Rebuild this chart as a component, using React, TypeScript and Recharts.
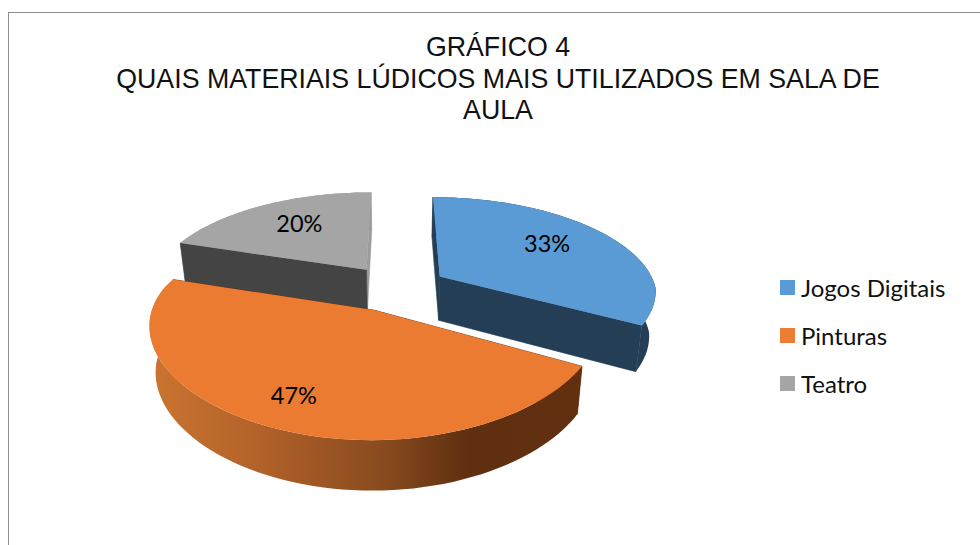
import React from 'react';
import { PieChart, Pie, Cell, Legend } from 'recharts';

const categories = ['Jogos Digitais', 'Pinturas', 'Teatro'];
const values = [33, 47, 20];
const topColors = ['#5b9bd5', '#ea7b30', '#a5a5a5'];
const legendColors = ['#5b9bd5', '#ed7d31', '#a5a5a5'];
const cutColors = ['#233e55', '#62300f', '#444444'];
const endCutColors = ['#233e55', '#62300f', '#9c9c9c'];
const labelFractions = [0.64, 0.8, 0.62];
const titleLines = ['GRÁFICO 4', 'QUAIS MATERIAIS LÚDICOS MAIS UTILIZADOS EM SALA DE', 'AULA'];

// Teatro comes first so Pinturas paints over its cut face; the angles start where Teatro starts
const drawOrder = [2, 0, 1];
const data = drawOrder.map((i) => ({ name: categories[i], value: values[i] }));

const RAD = Math.PI / 180;
const EXPLODE = 0.24; // pulled out of the centre, as a part of the radius
const SQUASH = 97.3 / 216.5; // vertical radius against horizontal radius
const DEPTH = 44.5;

// polar position on the tilted disc -> screen, near side looks larger
const project = (cx: number, cy: number, r: number, u: number, v: number, low = false) => {
  const x = cx + (r * u) / (1 - (v < 0 ? 0.19 : 0.13) * v);
  const y = cy + (r * SQUASH * v) / (1 - 0.18 * v);
  if (!low) return [x, y];
  return [cx + (x - cx) * 0.975, y + DEPTH * (1 + 0.11 * v)];
};

const toPath = (pts: number[][]) =>
  'M' + pts.map((p) => p[0].toFixed(1) + ',' + p[1].toFixed(1)).join('L') + 'Z';

const Slice3D = (props: any) => {
  const { cx, cy, outerRadius, startAngle, endAngle, midAngle, name } = props;
  const idx = categories.indexOf(name);
  const offU = EXPLODE * Math.cos(midAngle * RAD);
  const offV = -EXPLODE * Math.sin(midAngle * RAD);
  const rim = (a: number, low = false) =>
    project(cx, cy, outerRadius, offU + Math.cos(a * RAD), offV - Math.sin(a * RAD), low);
  const apex = project(cx, cy, outerRadius, offU, offV);
  const apexLow = project(cx, cy, outerRadius, offU, offV, true);

  const steps = 72;
  const angles: number[] = [];
  for (let i = 0; i <= steps; i++) angles.push(startAngle + ((endAngle - startAngle) * i) / steps);
  const topRim = angles.map((a) => rim(a));
  const lowRim = angles.map((a) => rim(a, true));
  const wallFill = name === 'Pinturas' ? 'url(#orangeWall)' : endCutColors[idx];

  return (
    <g>
      <path d={toPath([...topRim, ...[...lowRim].reverse()])} fill={wallFill} />
      <path d={toPath([apex, topRim[steps], lowRim[steps], apexLow])} fill={endCutColors[idx]} stroke={endCutColors[idx]} strokeWidth={0.6} />
      <path d={toPath([apex, topRim[0], lowRim[0], apexLow])} fill={cutColors[idx]} stroke={cutColors[idx]} strokeWidth={0.6} />
      <path d={toPath([apex, ...topRim])} fill={topColors[idx]} />
    </g>
  );
};

const sliceLabel = (props: any) => {
  const { cx, cy, outerRadius, midAngle, name, value } = props;
  const idx = categories.indexOf(name);
  const f = EXPLODE + labelFractions[idx];
  const [x, y] = project(cx, cy, outerRadius, f * Math.cos(midAngle * RAD), -f * Math.sin(midAngle * RAD));
  return (
    <text x={x} y={y - 5} textAnchor="middle" dominantBaseline="central" fontFamily="Lato" fontSize={23.5} fill="#000">
      {value}%
    </text>
  );
};

const legendContent = ({ payload }: any) => {
  const items = [...(payload || [])].sort(
    (a: any, b: any) => categories.indexOf(a.value) - categories.indexOf(b.value)
  );
  return (
    <div>
      {items.map((item: any) => (
        <div key={item.value} style={{ display: 'flex', alignItems: 'center', height: 48, fontFamily: 'Lato', fontSize: 24, color: '#111' }}>
          <span
            style={{
              width: 15,
              height: 15,
              marginRight: 6,
              background: legendColors[categories.indexOf(item.value)],
            }}
          />
          {item.value}
        </div>
      ))}
    </div>
  );
};

export default function App() {
  return (
    <div style={{ position: 'absolute', left: 0, top: 0, width: 980, height: 545, overflow: 'hidden', background: '#fff' }}>
      <div style={{ position: 'absolute', left: 8, top: 12, right: 0, bottom: 0, borderLeft: '1px solid #8c8c8c', borderTop: '1px solid #8c8c8c' }} />
      <div style={{ position: 'absolute', left: 48, width: 900, top: 32, textAlign: 'center', fontFamily: '"Liberation Sans"', fontSize: 26.75, lineHeight: '31.5px', color: '#111' }}>
        {titleLines.map((t) => (
          <div key={t}>{t}</div>
        ))}
      </div>
      <div style={{ position: 'absolute', left: 0, top: 0 }}>
        <PieChart width={980} height={545} margin={{ top: 0, right: 0, bottom: 0, left: 0 }}>
          <defs>
            <linearGradient id="orangeWall" gradientUnits="userSpaceOnUse" x1={150} y1={0} x2={580} y2={0}>
              <stop offset="0" stopColor="#cb7430" />
              <stop offset="0.25" stopColor="#b3622a" />
              <stop offset="0.55" stopColor="#874a1e" />
              <stop offset="0.74" stopColor="#5f2f10" />
              <stop offset="1" stopColor="#62300f" />
            </linearGradient>
          </defs>
          <Pie
            data={data}
            dataKey="value"
            nameKey="name"
            cx={396}
            cy={288}
            outerRadius={216.5}
            startAngle={162}
            endAngle={-198}
            stroke="none"
            isAnimationActive={false}
            shape={Slice3D}
            label={sliceLabel}
            labelLine={false}
          >
            {data.map((d) => (
              <Cell key={d.name} fill={legendColors[categories.indexOf(d.name)]} />
            ))}
          </Pie>
          <Legend
            layout="vertical"
            verticalAlign="top"
            align="right"
            content={legendContent}
            wrapperStyle={{ left: 780, top: 263, width: 200 }}
          />
        </PieChart>
      </div>
    </div>
  );
}
